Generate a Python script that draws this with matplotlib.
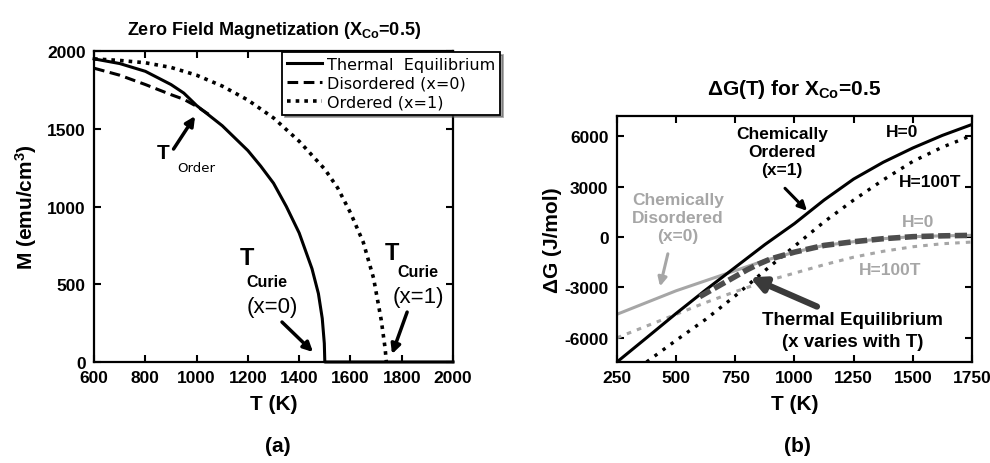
import matplotlib
matplotlib.use("Agg")
import matplotlib.pyplot as plt

plt.rcParams['font.family'] = ['Liberation Sans', 'DejaVu Sans']
plt.rcParams['mathtext.fontset'] = 'custom'
plt.rcParams['mathtext.rm'] = 'Liberation Sans'
plt.rcParams['mathtext.bf'] = 'Liberation Sans:bold'
plt.rcParams['mathtext.it'] = 'Liberation Sans:italic'
plt.rcParams['axes.unicode_minus'] = False

# (a) zero field magnetization
t_eq = [600, 700, 800, 900, 950, 1000, 1100, 1200, 1250, 1300, 1350, 1400, 1450, 1475, 1490, 1498, 1500, 2000]
m_eq = [1950, 1920, 1870, 1785, 1730, 1650, 1520, 1360, 1260, 1150, 1000, 830, 600, 440, 280, 120, 0, 0]
t_dis = [600, 700, 800, 900, 950, 1000, 1050]
m_dis = [1890, 1845, 1785, 1720, 1690, 1645, 1590]
t_ord = [600, 700, 800, 900, 1000, 1100, 1200, 1300, 1400, 1500, 1550, 1600, 1650, 1690, 1720, 1735, 1740]
m_ord = [1950, 1940, 1925, 1895, 1845, 1775, 1685, 1570, 1420, 1240, 1120, 960, 770, 540, 270, 90, 0]

# (b) delta G vs T
t_g = [250, 375, 500, 625, 750, 875, 1000, 1125, 1250, 1375, 1500, 1625, 1750]
g_ord_h0 = [-7440, -6000, -4550, -3150, -1800, -450, 800, 2200, 3450, 4450, 5300, 6050, 6700]
g_dis_h0 = [-4600, -3900, -3200, -2600, -2000, -1400, -900, -500, -280, -100, 20, 70, 100]
g_dis_h100 = [-6000, -5300, -4600, -3900, -3250, -2650, -2150, -1650, -1200, -850, -580, -400, -300]
t_ord_h100 = [375, 500, 625, 750, 875, 1000, 1125, 1250, 1375, 1500, 1625, 1750]
g_ord_h100 = [-7440, -6150, -4900, -3500, -2000, -550, 900, 2200, 3400, 4500, 5350, 6050]
t_te = [600, 650, 700, 750, 800, 850, 900, 1000, 1125, 1250, 1375, 1500, 1625, 1750]
g_te = [-3550, -3150, -2750, -2350, -1950, -1600, -1300, -900, -500, -280, -100, 20, 70, 100]

LIGHT = '#a6a6a6'
DARK = '#4d4d4d'


def style_axes(ax, xt, yt):
    for s in ax.spines.values():
        s.set_linewidth(1.6)
    ax.set_xticks(xt)
    ax.set_xticklabels([str(v) for v in xt], fontweight='bold')
    ax.set_yticks(yt)
    ax.set_yticklabels([str(v) for v in yt], fontweight='bold')
    ax.tick_params(direction='in', length=5, width=1.5, top=True, right=True,
                   labelsize=12.5, pad=6)


def main():
    fig = plt.figure(figsize=(9.9, 4.64), dpi=100)

    # ---------------- (a) ----------------
    ax1 = fig.add_axes([0.095, 0.2177, 0.3626, 0.670])
    ax1.plot(t_eq, m_eq, color='k', lw=2.2, label='Thermal  Equilibrium', clip_on=False, zorder=3)
    ax1.plot(t_dis, m_dis, color='k', lw=2.2, ls=(0, (3.5, 1.8)), label='Disordered (x=0)')
    ax1.plot(t_ord, m_ord, color='k', lw=2.6, ls=(0, (1, 1.4)), label='Ordered (x=1)')
    ax1.set_xlim(600, 2000)
    ax1.set_ylim(0, 2000)
    style_axes(ax1, list(range(600, 2001, 200)), [0, 500, 1000, 1500, 2000])
    ax1.set_xlabel('T (K)', fontsize=15, fontweight='bold', labelpad=6)
    ax1.set_ylabel(r'M (emu/cm$^{\mathbf{3}}$)', fontsize=15, fontweight='bold', labelpad=6)
    ax1.set_title(r'Zero Field Magnetization (X$_{\mathbf{Co}}$=0.5)', fontsize=13,
                  fontweight='bold', pad=12)
    leg = ax1.legend(loc='upper left', bbox_to_anchor=(0.524, 0.997), fancybox=False,
                     shadow=True, edgecolor='k', framealpha=1, borderpad=0.3,
                     labelspacing=0.25, handlelength=2.2, handletextpad=0.3,
                     borderaxespad=0, prop={'family': 'DejaVu Sans', 'size': 11.5})
    leg.get_frame().set_linewidth(1.3)

    arw = dict(arrowstyle='-|>', lw=2.5, color='k', mutation_scale=14, shrinkA=0, shrinkB=0)
    ax1.text(869, 1350, 'T', fontsize=15, fontweight='bold', ha='center', va='center')
    ax1.text(1000, 1250, 'Order', fontsize=9.5, family='DejaVu Sans', ha='center', va='center')
    ax1.annotate('', xy=(994, 1582), xytext=(910, 1370), arrowprops=arw)

    ax1.text(1197, 675, 'T', fontsize=17, fontweight='bold', ha='center', va='center')
    ax1.text(1275, 520, 'Curie', fontsize=11.5, fontweight='bold', ha='center', va='center')
    ax1.text(1294, 354, '(x=0)', fontsize=16, ha='center', va='center')
    ax1.annotate('', xy=(1454, 64), xytext=(1333, 257), arrowprops=arw)

    ax1.text(1762, 707, 'T', fontsize=17, fontweight='bold', ha='center', va='center')
    ax1.text(1864, 585, 'Curie', fontsize=11.5, fontweight='bold', ha='center', va='center')
    ax1.text(1864, 424, '(x=1)', fontsize=16, ha='center', va='center')
    ax1.annotate('', xy=(1762, 51), xytext=(1821, 321), arrowprops=arw)

    fig.text(0.281, 0.037, '(a)', fontsize=15, fontweight='bold', ha='center', va='center')

    # ---------------- (b) ----------------
    ax2 = fig.add_axes([0.6232, 0.2177, 0.3586, 0.530])
    ax2.plot(t_g, g_dis_h0, color=LIGHT, lw=2.2)
    ax2.plot(t_g, g_dis_h100, color=LIGHT, lw=2.2, ls=(0, (1.5, 2)))
    ax2.plot(t_g, g_ord_h0, color='k', lw=2.2)
    ax2.plot(t_ord_h100, g_ord_h100, color='k', lw=2.4, ls=(0, (1, 2)))
    ax2.plot(t_te, g_te, color=DARK, lw=4, ls=(0, (2.2, 0.8)))
    ax2.set_xlim(250, 1750)
    ax2.set_ylim(-7440, 7200)
    style_axes(ax2, list(range(250, 1751, 250)), [-6000, -3000, 0, 3000, 6000])
    ax2.set_xlabel('T (K)', fontsize=15, fontweight='bold', labelpad=6)
    ax2.set_ylabel('\u0394G (J/mol)', fontsize=15, fontweight='bold', labelpad=2)
    ax2.set_title(r'$\mathbf{\Delta}$G(T) for X$_{\mathbf{Co}}$=0.5', fontsize=15,
                  fontweight='bold', pad=16)

    ax2.text(947, 5100, 'Chemically\nOrdered\n(x=1)', fontsize=12.5, fontweight='bold',
             ha='center', va='center', linespacing=1.25)
    ax2.annotate('', xy=(1053, 1560), xytext=(960, 2900),
                 arrowprops=dict(arrowstyle='-|>', lw=2.2, color='k', mutation_scale=13,
                                 shrinkA=0, shrinkB=0))
    ax2.text(1454, 6300, 'H=0', fontsize=12.5, fontweight='bold', ha='center', va='center')
    ax2.text(1572, 3300, 'H=100T', fontsize=12.5, fontweight='bold', ha='center', va='center')

    ax2.text(508, 1150, 'Chemically\nDisordered\n(x=0)', fontsize=12.5, fontweight='bold',
             color=LIGHT, ha='center', va='center', linespacing=1.25)
    ax2.annotate('', xy=(432, -2940), xytext=(465, -1000),
                 arrowprops=dict(arrowstyle='-|>', lw=2.2, color=LIGHT, mutation_scale=13,
                                 shrinkA=0, shrinkB=0))
    ax2.text(1522, 900, 'H=0', fontsize=12.5, fontweight='bold', color=LIGHT,
             ha='center', va='center')
    ax2.text(1403, -1920, 'H=100T', fontsize=12.5, fontweight='bold', color=LIGHT,
             ha='center', va='center')

    ax2.text(1247, -4920, 'Thermal Equilibrium', fontsize=13.5, fontweight='bold',
             ha='center', va='center')
    ax2.text(1247, -6240, '(x varies with T)', fontsize=13.5, fontweight='bold',
             ha='center', va='center')
    ax2.annotate('', xy=(812, -2400), xytext=(1095, -4140),
                 arrowprops=dict(arrowstyle='-|>', lw=4.5, color='#3a3a3a', mutation_scale=22,
                                 shrinkA=0, shrinkB=0))

    fig.text(0.805, 0.037, '(b)', fontsize=15, fontweight='bold', ha='center', va='center')

    fig.savefig('out.png', dpi=100)


if __name__ == "__main__":
    main()
